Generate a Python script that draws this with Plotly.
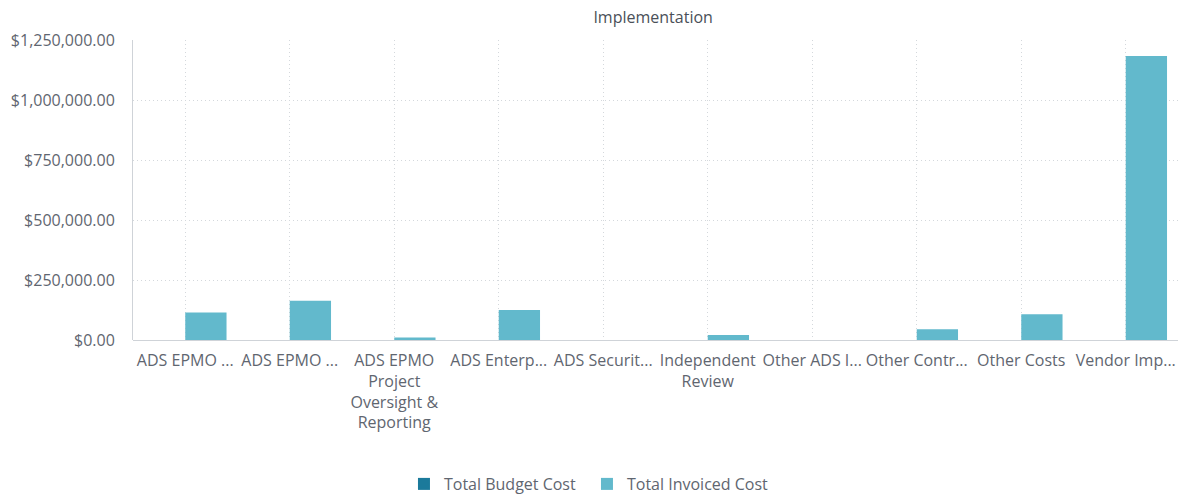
import plotly.graph_objects as go

# Cost categories (as labelled on the axis)
categories = [
    "ADS EPMO ...",
    "ADS EPMO ...​",
    "ADS EPMO<br>Project<br>Oversight &<br>Reporting",
    "ADS Enterp...",
    "ADS Securit...",
    "Independent<br>Review",
    "Other ADS I...",
    "Other Contr...",
    "Other Costs",
    "Vendor Imp...",
]
budget_cost = [0, 0, 0, 0, 0, 0, 0, 0, 0, 0]
invoiced_cost = [115000, 164000, 10000, 125000, 0, 21000, 0, 45000, 107000, 1183000]

y_ticks = [0, 250000, 500000, 750000, 1000000, 1250000]

BUDGET_COLOR = "#1b7a9b"
INVOICED_COLOR = "#62b9cc"
TEXT_COLOR = "#5f6670"
GRID_COLOR = "#d4d8dc"
GRID_DASH = "1px,3px"
FONT = "Open Sans"
FS = 16

x_idx = list(range(len(categories)))

fig = go.Figure()
fig.add_trace(go.Bar(x=x_idx, y=budget_cost, name="Total Budget Cost",
                     marker=dict(color=BUDGET_COLOR, line=dict(width=0))))
fig.add_trace(go.Bar(x=x_idx, y=invoiced_cost, name="Total Invoiced Cost",
                     marker=dict(color=INVOICED_COLOR, line=dict(width=0))))

fig.update_layout(
    width=1180, height=498,
    margin=dict(l=133, r=2, t=40, b=158, autoexpand=False),
    paper_bgcolor="white", plot_bgcolor="white",
    font=dict(family=FONT, size=FS, color=TEXT_COLOR),
    title=dict(text="Implementation", x=0.5535, xanchor="center",
               y=1 - 17 / 498, yanchor="middle",
               font=dict(family=FONT, size=16, color="#4a5058")),
    barmode="group", bargap=0.21, bargroupgap=0,
    showlegend=True,
    legend=dict(orientation="h", x=0.2593, xanchor="left",
                y=-0.48, yanchor="middle",
                entrywidth=138, entrywidthmode="pixels",
                font=dict(family=FONT, size=FS, color=TEXT_COLOR),
                itemsizing="constant", traceorder="normal"),
)

fig.update_xaxes(
    tickmode="array", tickvals=x_idx, ticktext=categories,
    range=[-0.5, len(categories) - 0.5],
    showgrid=True, gridcolor=GRID_COLOR, griddash=GRID_DASH, gridwidth=1,
    showline=False, zeroline=False, ticks="", tickangle=0,
    ticklabelstandoff=9,
    tickfont=dict(family=FONT, size=FS, color=TEXT_COLOR),
)
fig.update_yaxes(
    range=[0, 1250000], tickvals=y_ticks, tickformat="$,.2f",
    showgrid=True, gridcolor=GRID_COLOR, griddash=GRID_DASH, gridwidth=1,
    showline=True, linecolor="#cfd3d8", linewidth=1,
    zeroline=True, zerolinecolor="#cfd3d8", zerolinewidth=1,
    ticks="", ticklen=0, ticklabelstandoff=14,
    tickfont=dict(family=FONT, size=FS, color=TEXT_COLOR),
)

fig.write_html("out.html")
